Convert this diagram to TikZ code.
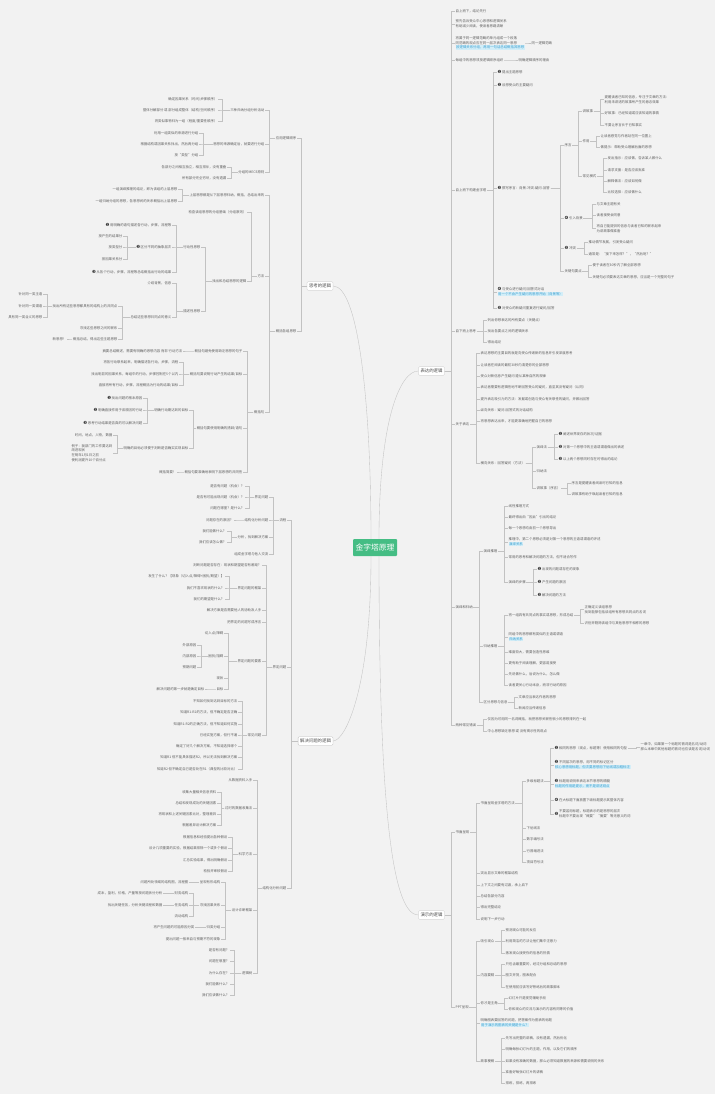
\documentclass[tikz,border=0pt]{standalone}
\usepackage{fontspec}
\setmainfont{Noto Sans CJK SC}
\newfontfamily\dingfont{DejaVu Sans}
\definecolor{bgpanel}{HTML}{F2F2F2}
\definecolor{linecol}{HTML}{C2C2C2}
\definecolor{txtcol}{HTML}{5E5E5E}
\definecolor{rootgreen}{HTML}{45BD84}
\definecolor{hlbg}{HTML}{D3EEF8}
\definecolor{hlfg}{HTML}{3B9FD0}
\definecolor{dotcol}{HTML}{3A3A3A}
\newcommand{\nm}[1]{{\color{dotcol}\dingfont\fontsize{4.3}{4}\selectfont #1}\,}
\newcommand{\hl}[1]{{\setlength{\fboxsep}{0.5pt}\colorbox{hlbg}{\color{hlfg}#1}}}
\tikzset{
  leaf/.style={font=\fontsize{3.4}{4.7}\selectfont, text=txtcol, inner sep=0.5pt, align=left},
  rleaf/.style={leaf, anchor=west},
  lleaf/.style={leaf, anchor=east},
  topic/.style={font=\fontsize{4.4}{5}\selectfont, text=black!70, fill=white, draw=linecol, line width=0.3pt, rounded corners=1pt, inner xsep=2pt, inner ysep=2.2pt},
  rootnode/.style={font=\fontsize{7.8}{8}\selectfont, text=white, fill=rootgreen, rounded corners=1pt, minimum width=44pt, minimum height=17pt, inner sep=0pt},
  link/.style={draw=linecol, line width=0.35pt}
}
\begin{document}
\begin{tikzpicture}[x=1pt, y=-1pt]
    \useasboundingbox (0,0) rectangle (720,1102);
    \fill[white] (0,0) rectangle (720,1102);
    \fill[bgpanel] (0,0) rectangle (715,1094);

    % centre and main topics
    \node[rootnode] (root) at (375,547.5) {金字塔原理};
    \node[topic] (ex) at (431.5,371) {表达的逻辑};
    \node[topic] (dm) at (431.5,915) {演示的逻辑};
    \node[topic] (th) at (320,286) {思考的逻辑};
    \node[topic] (sv) at (315.5,741) {解决问题的逻辑};

    \draw[link] ([xshift=-4pt]root.north) .. controls (371,400) and (358,286) .. (th.east);
    \draw[link] ([xshift=-4pt]root.south) .. controls (371,690) and (345,741) .. (sv.east);
    \draw[link] ([xshift=4pt]root.north) .. controls (379,420) and (400,371) .. (ex.west);
    \draw[link] ([xshift=4pt]root.south) .. controls (379,830) and (395,915) .. (dm.west);

    % 表达的逻辑
    \node[rleaf] (e1) at (455,11) {自上而下，结论先行};
    \node[rleaf] (e2) at (455,24) {预先告诉受众中心思想和逻辑关系\\有助减少阅读，使读者思路清晰};
    \node[rleaf] (e3) at (455,43) {将属于同一逻辑范畴的单元组成一个段落\\同范畴的观点应在同一层次表达同一思想\\\hl{按逻辑关系分组，再用一句话总结概括其思想}};
    \node[rleaf] (e3a) at (531,43) {同一逻辑范畴};
    \node[rleaf] (e4) at (455,60) {每组中的思想须按逻辑顺序组织};
    \node[rleaf] (e4a) at (518,60) {明确逻辑顺序的理由};
    \node[rleaf] (e5) at (455,190) {自上而下构建金字塔};
    \node[rleaf] (e51) at (497,72) {\nm{❶}提出主题思想};
    \node[rleaf] (e52) at (497,85) {\nm{❷}设想受众的主要疑问};
    \node[rleaf] (e53) at (497,188) {\nm{❸}撰写序言：背景-冲突-疑问-回答};
    \node[rleaf] (e531) at (564,145) {序言};
    \node[rleaf] (e5311) at (582,111) {讲故事};
    \node[rleaf] (es1) at (604,99.5) {提醒读者已知的信息，专注于文章的方法：\\利用未讲述的故事所产生的悬念效果};
    \node[rleaf] (es2) at (604,113) {好故事：已经知道或应该知道的事情};
    \node[rleaf] (es3) at (604,125) {不要让序言长于已知事实};
    \node[rleaf] (e5312) at (582,141) {作用};
    \node[rleaf] (es4) at (600,136) {让读者感觉与作者站在同一位置上};
    \node[rleaf] (es5) at (600,147) {做提示：帮助受众理解后面的思想};
    \node[rleaf] (e5313) at (582,176) {常见模式};
    \node[rleaf] (es6) at (607,158) {发出指示：应该做，告诉某人做什么};
    \node[rleaf] (es7) at (607,170) {请求支援：是否应该批准};
    \node[rleaf] (es8) at (607,181) {解释做法：应该如何做};
    \node[rleaf] (es9) at (607,192) {比较选择：应该做什么};
    \node[rleaf] (e532) at (564,218) {\nm{❹}引入背景};
    \node[rleaf] (eb1) at (596,204) {与文章主题有关};
    \node[rleaf] (eb2) at (596,215) {读者接受会同意};
    \node[rleaf] (eb3) at (596,228.5) {将自己能提供的信息与读者已知的联系起来\\为讲故事做准备};
    \node[rleaf] (e533) at (564,248) {\nm{❺}冲突};
    \node[rleaf] (ec1) at (588,242) {推动情节发展，引发受众疑问};
    \node[rleaf] (ec2) at (588,254) {通常是：“接下来怎样？”，“然后呢？”};
    \node[rleaf] (e534) at (564,271) {关键句要点};
    \node[rleaf] (ek1) at (592,265) {便于读者在30秒内了解全部思想};
    \node[rleaf] (ek2) at (592,277) {关键句必须要表达文章的思想，应当是一个完整的句子};
    \node[rleaf] (e54) at (497,292) {\nm{❹}与受众进行疑问/回答式对话\\\hl{用一个不会产生疑问的思想开始（背景等）}};
    \node[rleaf] (e55) at (497,308) {\nm{❺}对受众的新疑问重复进行疑问/回答};
    \node[rleaf] (e6) at (455,331) {自下而上思考};
    \node[rleaf] (eu1) at (487,320) {列出你想表达的所有要点（关键点）};
    \node[rleaf] (eu2) at (487,331) {找出各要点之间的逻辑关系};
    \node[rleaf] (eu3) at (487,342) {得出结论};
    \node[rleaf] (e7) at (455,424) {关于表达};
    \node[rleaf] (eg1) at (480,353) {表达思想的主要目的就是向受众传递新的信息并引发深度思考};
    \node[rleaf] (eg2) at (480,365) {让读者在阅读的最初30秒内清楚你的全部思想};
    \node[rleaf] (eg3) at (480,376) {受众对新信息产生疑问 遵从某种自然的规律};
    \node[rleaf] (eg4) at (480,387) {表达者需要有逻辑性地不断回答受众的疑问，直至其没有疑问（认同）};
    \node[rleaf] (eg5) at (480,399) {提升表达吸引力的方法：发掘或创造与受众有关联性的疑问，并做出回答};
    \node[rleaf] (eg6) at (480,410) {纵向关系：疑问-回答式的对话结构};
    \node[rleaf] (eg7) at (480,421) {将思想表达出来，才能更准确地把握自己的思想};
    \node[rleaf] (eg8) at (480,463) {横向关系：回答疑问（方法）};
    \node[rleaf] (eh1) at (536,447) {演绎法};
    \node[rleaf] (eh11) at (558,434) {\nm{❶}阐述世界现存的状况/证据};
    \node[rleaf] (eh12) at (558,447) {\nm{❷}对第一个思想中的主语或谓语做出的表述};
    \node[rleaf] (eh13) at (558,459) {\nm{❸}以上两个思想同时存在时得出的结论};
    \node[rleaf] (eh2) at (536,471) {归纳法};
    \node[rleaf] (eh3) at (536,488) {讲故事（序言）};
    \node[rleaf] (eh31) at (571,483) {序言是提醒读者阅读时已知的信息};
    \node[rleaf] (eh32) at (571,494) {讲故事有助于唤起读者已知的信息};
    \node[rleaf] (e8) at (455,607) {演绎和归纳};
    \node[rleaf] (ed1) at (483,551) {演绎推理};
    \node[rleaf] (ed11) at (508,506) {线性推理方式};
    \node[rleaf] (ed12) at (508,517) {最终得出由“因此”引出的结论};
    \node[rleaf] (ed13) at (508,528) {每一个思想均由前一个思想导出};
    \node[rleaf] (ed14) at (508,542) {推理中，第二个思想必须是对第一个思想的主语或谓语的评述\\\hl{演绎关系}};
    \node[rleaf] (ed15) at (508,557) {常用的思考和解决问题的方法，但不适合写作};
    \node[rleaf] (ed16) at (508,582) {演绎的步骤};
    \node[rleaf] (ed161) at (537,569) {\nm{❶}出现的问题或存在的现象};
    \node[rleaf] (ed162) at (537,582) {\nm{❷}产生问题的原因};
    \node[rleaf] (ed163) at (537,595) {\nm{❸}解决问题的方法};
    \node[rleaf] (ed2) at (483,646) {归纳推理};
    \node[rleaf] (ed21) at (508,615) {将一组具有共同点的事实或思想，形成总结};
    \node[rleaf] (ed211) at (584,609.5) {正确定义该组思想\\找到能够包括该组所有思想共同点的名词};
    \node[rleaf] (ed212) at (584,623) {识别并剔除该组中与其他思想不相称的思想};
    \node[rleaf] (ed22) at (508,637) {同组中的思想都有类似的主语或谓语\\\hl{归纳关系}};
    \node[rleaf] (ed23) at (508,652) {难度较大，需要创造性思维};
    \node[rleaf] (ed24) at (508,663) {更有助于阅读理解，更容易接受};
    \node[rleaf] (ed25) at (508,674) {先说做什么，后说为什么，怎么做};
    \node[rleaf] (ed26) at (508,685) {读者更关心行动本身，而非行动的原因};
    \node[rleaf] (ed3) at (483,702) {区分思想与信息};
    \node[rleaf] (ed31) at (518,697) {文章应当表达作者的思想};
    \node[rleaf] (ed32) at (518,708) {新闻应当传递信息};
    \node[rleaf] (e9) at (455,725) {两种常见错误};
    \node[rleaf] (em1) at (487,719) {仅因为可用同一名词概括，就把思想关联性很小的思想排列在一起};
    \node[rleaf] (em2) at (487,731) {中心思想缺乏思想 或 没有揭示性的观点};

    % 演示的逻辑
    \node[rleaf] (p1) at (455,832) {书面呈现};
    \node[rleaf] (p11) at (480,803) {书面呈现金字塔的方法};
    \node[rleaf] (p111) at (526,781) {多级标题法};
    \node[rleaf] (t1) at (554,748) {\nm{❶}相同的思想（观点，标题等）使用相同的句型};
    \node[rleaf] (t1a) at (640,747) {一章中，如果第一个标题的首词是名词/动词\\那么本章中其他标题的首词也应该是名词/动词};
    \node[rleaf] (t2) at (554,765) {\nm{❷}不同层次的思想，用不同的标记区分\\\hl{核心思想用标题，但次要思想用下划线或加粗标注}};
    \node[rleaf] (t3) at (554,784) {\nm{❸}标题用说明来表达本节思想的精髓\\\hl{标题的作用是提示，而不是讲述观点}};
    \node[rleaf] (t4) at (554,800) {\nm{❹}在大标题下面放置下级标题提示其整体内容};
    \node[rleaf] (t5) at (554,814) {\nm{❺}\begin{tabular}{@{}l@{}}不要滥用标题，标题表示的是思想的层次\\标题中不要出现“概要”“摘要”等无意义的词\end{tabular}};
    \node[rleaf] (p112) at (526,828) {下划线法};
    \node[rleaf] (p113) at (526,839) {数字编号法};
    \node[rleaf] (p114) at (526,851) {行首缩进法};
    \node[rleaf] (p115) at (526,862) {项目符号法};
    \node[rleaf] (p12) at (480,873) {突出显示文章的框架结构};
    \node[rleaf] (p13) at (480,885) {上下文之间要有过渡，承上启下};
    \node[rleaf] (p14) at (480,896) {总结各部分内容};
    \node[rleaf] (p15) at (480,907) {得出完整结论};
    \node[rleaf] (p16) at (480,919) {说明下一步行动};
    \node[rleaf] (p2) at (455,1007) {PPT呈现};
    \node[rleaf] (q1) at (480,941) {吸引观众};
    \node[rleaf] (q11) at (505,930) {预测观众可能的反应};
    \node[rleaf] (q12) at (505,941) {利用简洁的方法让他们集中注意力};
    \node[rleaf] (q13) at (505,953) {激发观众接受你的信息的热情};
    \node[rleaf] (q2) at (480,975) {内容要精};
    \node[rleaf] (q21) at (505,964) {只包含最重要的，经过分组和总结的思想};
    \node[rleaf] (q22) at (505,975) {图文并茂，图表配合};
    \node[rleaf] (q23) at (505,987) {在使用前应该写好熟练后的故事脚本};
    \node[rleaf] (q3) at (480,1003) {你才是主角};
    \node[rleaf] (q31) at (508,998) {幻灯片只是视觉辅助手段};
    \node[rleaf] (q32) at (508,1009) {你和观众的交流与演示的内容有同等的价值};
    \node[rleaf] (q4) at (480,1023) {明确图表要回答的问题，把答案作为图表的标题\\\hl{用于演示的图表的关键是什么？}};
    \node[rleaf] (q5) at (480,1061) {故事梗概};
    \node[rleaf] (q51) at (505,1038) {先写出完整的讲稿，没有遗漏，然后优化};
    \node[rleaf] (q52) at (505,1049) {明确每张幻灯片的主题，作用，以及它们的顺序};
    \node[rleaf] (q53) at (505,1061) {如果没有准确的数据，那么必须知道数据的来源和需要说明的关系};
    \node[rleaf] (q54) at (505,1072) {准备好每张幻灯片的讲稿};
    \node[rleaf] (q55) at (505,1083) {排练，排练，再排练};

    % 思考的逻辑
    \node[lleaf] (ta) at (297,138) {应用逻辑顺序};
    \node[lleaf] (ta1) at (265,110) {三种归纳分组分析活动};
    \node[lleaf] (ta11) at (218,99) {确定因果关系（时间/步骤顺序）};
    \node[lleaf] (ta12) at (218,110) {整体分解部分 或 部分组成整体（结构/空间顺序）};
    \node[lleaf] (ta13) at (218,121) {将类似事物归为一组（程度/重要性顺序）};
    \node[lleaf] (ta2) at (265,144) {思想的来源确定后，就要进行分组};
    \node[lleaf] (ta21) at (199,133) {利用一组类似的来源进行分组};
    \node[lleaf] (ta22) at (199,144) {根据结构或因果关系找出，然后再分组};
    \node[lleaf] (ta23) at (199,155) {按“类型”分组};
    \node[lleaf] (ta3) at (265,172) {分组的MECE原则};
    \node[lleaf] (ta31) at (227,167) {各部分之间相互独立，相互排斥，没有重叠};
    \node[lleaf] (ta32) at (227,178) {所有部分完全穷尽，没有遗漏};
    \node[lleaf] (tb) at (297,331) {概括各组思想};
    \node[lleaf] (tb1) at (265,195) {上层思想都是从下层思想归纳，概括，总结出来的};
    \node[lleaf] (tb11) at (178,189) {一组演绎推理的结论，即为该组的上层思想};
    \node[lleaf] (tb12) at (178,201) {一组归纳分组的思想，各思想间的关系概括出上层思想};
    \node[lleaf] (tb2) at (265,276) {方法};
    \node[lleaf] (tb21) at (247,212) {检查该组思想的分组基础（分组原则）};
    \node[lleaf] (tb22) at (247,281) {找出和总结思想的逻辑};
    \node[lleaf] (tb221) at (201,247) {行动性思想};
    \node[lleaf] (tx1) at (172,225) {\nm{❶}用明确的语句描述各行动，步骤，流程等};
    \node[lleaf] (tx2) at (172,247) {\nm{❷}区分不同的抽象层次};
    \node[lleaf] (tx21) at (123,236) {按产生的结果分};
    \node[lleaf] (tx22) at (123,247) {按类型分};
    \node[lleaf] (tx23) at (123,259) {按因果关系分};
    \node[lleaf] (tx3) at (172,272) {\nm{❸}从各个行动，步骤，流程等总结概括出行动的结果};
    \node[lleaf] (tb222) at (201,311) {描述性思想};
    \node[lleaf] (ty1) at (172,283) {介绍背景，信息};
    \node[lleaf] (ty2) at (172,317) {总结这些思想共同点的意义};
    \node[lleaf] (ty21) at (118,306) {找出所有这些思想都具有的结构上的共同点};
    \node[lleaf] (ty211) at (43,294) {针对同一类主语};
    \node[lleaf] (ty212) at (43,306) {针对同一类谓语};
    \node[lleaf] (ty213) at (43,317) {具有同一类含义的思想};
    \node[lleaf] (ty22) at (118,328) {寻找这些思想之间的联系};
    \node[lleaf] (ty23) at (118,339) {概括总结，得出这些主题思想};
    \node[lleaf] (ty231) at (67,339) {新思想！};
    \node[lleaf] (tb3) at (265,412) {概括句};
    \node[lleaf] (tc1) at (243,351) {概括句避免使用缺乏思想的句子};
    \node[lleaf] (tc11) at (183,351) {摘要总结概述，需要有明确的思想内容 而非 行动方法};
    \node[lleaf] (tc2) at (243,374) {概括句要说明行动产生的结果/目标};
    \node[lleaf] (tc21) at (179,362) {将各行动联系起来，明确描述各行动，步骤，流程};
    \node[lleaf] (tc22) at (179,374) {找出明显的因果关系，每组中的行动，步骤控制在5个以内};
    \node[lleaf] (tc23) at (179,385) {直接将所有行动，步骤，流程概括为行动的结果/目标};
    \node[lleaf] (tc3) at (243,428) {概括句要使用明确的措辞/语句};
    \node[lleaf] (tc31) at (189,410) {明确行动期达到的目标};
    \node[lleaf] (tc311) at (143,398) {\nm{❶}找出问题的根本原因};
    \node[lleaf] (tc312) at (143,410) {\nm{❷}明确直接作用于该原因的行动};
    \node[lleaf] (tc313) at (143,423) {\nm{❸}思考行动结果是否真的可以解决问题};
    \node[lleaf] (tc32) at (189,448) {明确的目标必须便于判断是否确实实现目标};
    \node[lleaf] (tc321) at (113,435) {时间，地点，人物，数据};
    \node[lleaf] (tc322) at (113,453) {例子：我部门的工作要达到\\改进现状\\在明年1月1日之前\\使利润提升10个百分点};
    \node[lleaf] (tc4) at (243,472) {概括句要准确地表明下层思想的共同性};
    \node[lleaf] (tc41) at (177,472) {概括简要！};

    % 解决问题的逻辑
    \node[lleaf] (sf) at (287,520) {流程};
    \node[lleaf] (sf1) at (269,497) {界定问题};
    \node[lleaf] (sf11) at (245,486) {是否有问题（机会）？};
    \node[lleaf] (sf12) at (245,497) {是否有可能出现问题（机会）？};
    \node[lleaf] (sf13) at (245,508) {问题在哪里？是什么？};
    \node[lleaf] (sf2) at (269,520) {结构化分析问题};
    \node[lleaf] (sf21) at (234,520) {问题存在的原因？};
    \node[lleaf] (sf3) at (269,537) {分析，找到解决方案};
    \node[lleaf] (sf31) at (227,531) {我们能做什么？};
    \node[lleaf] (sf32) at (227,542) {我们应该怎么做？};
    \node[lleaf] (sf4) at (269,554) {组成金字塔与他人交流};
    \node[lleaf] (sg) at (287,667) {界定问题};
    \node[lleaf] (sg1) at (262,565) {判断问题是否存在：现状和期望是否有差距？};
    \node[lleaf] (sg2) at (262,588) {界定问题的框架};
    \node[lleaf] (sg21) at (225,576) {发生了什么？【现象（切入点/障碍+困扰/期望）】};
    \node[lleaf] (sg22) at (225,588) {我们不喜欢现状的什么？};
    \node[lleaf] (sg23) at (225,599) {我们的期望是什么？};
    \node[lleaf] (sg3) at (262,610) {解决方案是否需要他人的协助及人手};
    \node[lleaf] (sg4) at (262,622) {把界定的问题写成序言};
    \node[lleaf] (sg5) at (262,661) {界定问题的要素};
    \node[lleaf] (sg51) at (224,633) {切入点/障碍};
    \node[lleaf] (sg52) at (224,656) {困扰/阻碍};
    \node[lleaf] (sg521) at (197,645) {外部原因};
    \node[lleaf] (sg522) at (197,656) {内部原因};
    \node[lleaf] (sg523) at (197,667) {预期问题};
    \node[lleaf] (sg53) at (224,678) {现状};
    \node[lleaf] (sg54) at (224,689) {目标};
    \node[lleaf] (sg541) at (205,689) {解决问题的第一步就是确定目标};
    \node[lleaf] (sg6) at (262,735) {常见问题};
    \node[lleaf] (sg61) at (238,701) {不知如何找到达到目标的方法};
    \node[lleaf] (sg62) at (238,712) {知道R1-R2的方法，但不确定是否正确};
    \node[lleaf] (sg63) at (238,724) {知道R1-R2的正确方法，但不知道如何实施};
    \node[lleaf] (sg64) at (238,735) {已经实施方案，但行不通};
    \node[lleaf] (sg65) at (238,746) {确定了好几个解决方案，不知道选择哪个};
    \node[lleaf] (sg66) at (238,757) {知道R1 但不能具体描述R2，所以无法找到解决方案};
    \node[lleaf] (sg67) at (238,769) {知道R2 但不确定自己是否处在R1（典型的比较对比）};
    \node[lleaf] (sh) at (287,888) {结构化分析问题};
    \node[lleaf] (sh1) at (253,780) {从数据资料入手};
    \node[lleaf] (sh2) at (253,808) {过时的数据收集法};
    \node[lleaf] (sh21) at (217,792) {收集大量相关信息资料};
    \node[lleaf] (sh22) at (217,803) {总结和发现成功的关键因素};
    \node[lleaf] (sh23) at (217,814) {将现状和上述关键因素比对，整理差异};
    \node[lleaf] (sh24) at (217,825) {根据差异设计解决方案};
    \node[lleaf] (sh3) at (253,854) {科学方法};
    \node[lleaf] (sh31) at (228,837) {根据信息和经验提出各种假设};
    \node[lleaf] (sh32) at (228,848) {设计几项重要的实验，根据结果排除一个或多个假设};
    \node[lleaf] (sh33) at (228,860) {汇总实验结果，得出明确假设};
    \node[lleaf] (sh34) at (228,871) {检验并审核假设};
    \node[lleaf] (sh4) at (253,910) {设计诊断框架};
    \node[lleaf] (sh41) at (221,882) {呈现有形结构};
    \node[lleaf] (sh411) at (189,882) {问题所处领域的结构图，流程图};
    \node[lleaf] (sh42) at (221,905) {寻找因果关系};
    \node[lleaf] (sh421) at (189,893) {财务结构};
    \node[lleaf] (sh4211) at (163,893) {成本，盈利，价格，产量等按问题拆分分析};
    \node[lleaf] (sh422) at (189,905) {任务结构};
    \node[lleaf] (sh4221) at (163,905) {找出关键任务，分析关键流程和数据};
    \node[lleaf] (sh423) at (189,916) {流动结构};
    \node[lleaf] (sh43) at (221,927) {归类分组};
    \node[lleaf] (sh431) at (195,927) {将产生问题的可能原因分类};
    \node[lleaf] (sh44) at (221,939) {提出问题一般来自与预期不符的现象};
    \node[lleaf] (sh5) at (253,973) {逻辑树};
    \node[lleaf] (sh51) at (230,950) {是否有问题？};
    \node[lleaf] (sh52) at (230,961) {问题在哪里？};
    \node[lleaf] (sh53) at (230,973) {为什么存在？};
    \node[lleaf] (sh54) at (230,984) {我们能做什么？};
    \node[lleaf] (sh55) at (230,995) {我们应该做什么？};

    % brackets, right hand side
    \foreach \p/\c in {ex/e1, ex/e2, ex/e3, ex/e4, ex/e5, ex/e6, ex/e7, ex/e8, ex/e9,
        e3/e3a, e4/e4a, e5/e51, e5/e52, e5/e53, e5/e54, e5/e55,
        e53/e531, e53/e532, e53/e533, e53/e534, e531/e5311, e531/e5312, e531/e5313,
        e5311/es1, e5311/es2, e5311/es3, e5312/es4, e5312/es5,
        e5313/es6, e5313/es7, e5313/es8, e5313/es9,
        e532/eb1, e532/eb2, e532/eb3, e533/ec1, e533/ec2, e534/ek1, e534/ek2,
        e6/eu1, e6/eu2, e6/eu3,
        e7/eg1, e7/eg2, e7/eg3, e7/eg4, e7/eg5, e7/eg6, e7/eg7, e7/eg8,
        eg8/eh1, eg8/eh2, eg8/eh3, eh1/eh11, eh1/eh12, eh1/eh13, eh3/eh31, eh3/eh32,
        e8/ed1, e8/ed2, e8/ed3, ed1/ed11, ed1/ed12, ed1/ed13, ed1/ed14, ed1/ed15, ed1/ed16,
        ed16/ed161, ed16/ed162, ed16/ed163,
        ed2/ed21, ed2/ed22, ed2/ed23, ed2/ed24, ed2/ed25, ed2/ed26, ed21/ed211, ed21/ed212,
        ed3/ed31, ed3/ed32, e9/em1, e9/em2,
        dm/p1, dm/p2, p1/p11, p1/p12, p1/p13, p1/p14, p1/p15, p1/p16,
        p11/p111, p11/p112, p11/p113, p11/p114, p11/p115,
        p111/t1, p111/t2, p111/t3, p111/t4, p111/t5, t1/t1a,
        p2/q1, p2/q2, p2/q3, p2/q4, p2/q5, q1/q11, q1/q12, q1/q13,
        q2/q21, q2/q22, q2/q23, q3/q31, q3/q32,
        q5/q51, q5/q52, q5/q53, q5/q54, q5/q55}
      \draw[link] (\p.east) -| ([xshift=-4pt]\c.west) -- (\c.west);

    % brackets, left hand side
    \foreach \p/\c in {th/ta, th/tb, ta/ta1, ta/ta2, ta/ta3,
        ta1/ta11, ta1/ta12, ta1/ta13, ta2/ta21, ta2/ta22, ta2/ta23, ta3/ta31, ta3/ta32,
        tb/tb1, tb/tb2, tb/tb3, tb1/tb11, tb1/tb12, tb2/tb21, tb2/tb22,
        tb22/tb221, tb22/tb222, tb221/tx1, tb221/tx2, tb221/tx3, tx2/tx21, tx2/tx22, tx2/tx23,
        tb222/ty1, tb222/ty2, ty2/ty21, ty2/ty22, ty2/ty23,
        ty21/ty211, ty21/ty212, ty21/ty213, ty23/ty231,
        tb3/tc1, tb3/tc2, tb3/tc3, tb3/tc4, tc1/tc11, tc2/tc21, tc2/tc22, tc2/tc23,
        tc3/tc31, tc3/tc32, tc31/tc311, tc31/tc312, tc31/tc313, tc32/tc321, tc32/tc322, tc4/tc41,
        sv/sf, sv/sg, sv/sh, sf/sf1, sf/sf2, sf/sf3, sf/sf4,
        sf1/sf11, sf1/sf12, sf1/sf13, sf2/sf21, sf3/sf31, sf3/sf32,
        sg/sg1, sg/sg2, sg/sg3, sg/sg4, sg/sg5, sg/sg6, sg2/sg21, sg2/sg22, sg2/sg23,
        sg5/sg51, sg5/sg52, sg5/sg53, sg5/sg54, sg52/sg521, sg52/sg522, sg52/sg523, sg54/sg541,
        sg6/sg61, sg6/sg62, sg6/sg63, sg6/sg64, sg6/sg65, sg6/sg66, sg6/sg67,
        sh/sh1, sh/sh2, sh/sh3, sh/sh4, sh/sh5, sh2/sh21, sh2/sh22, sh2/sh23, sh2/sh24,
        sh3/sh31, sh3/sh32, sh3/sh33, sh3/sh34, sh4/sh41, sh4/sh42, sh4/sh43, sh4/sh44,
        sh41/sh411, sh42/sh421, sh42/sh422, sh42/sh423, sh421/sh4211, sh422/sh4221, sh43/sh431,
        sh5/sh51, sh5/sh52, sh5/sh53, sh5/sh54, sh5/sh55}
      \draw[link] (\p.west) -| ([xshift=4pt]\c.east) -- (\c.east);
\end{tikzpicture}
\end{document}
